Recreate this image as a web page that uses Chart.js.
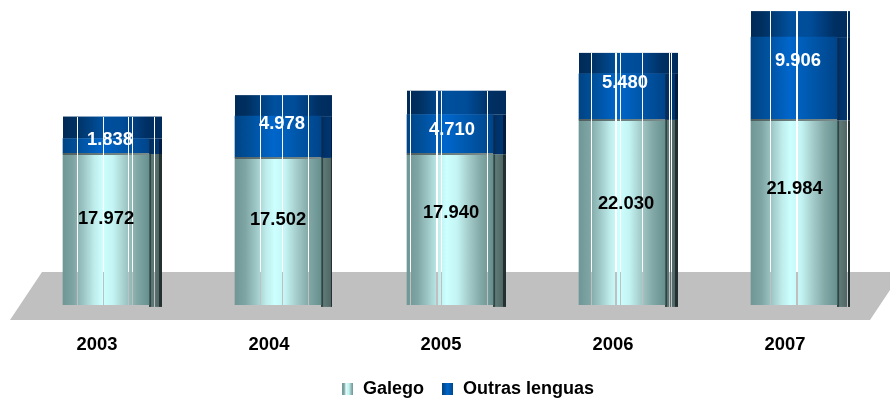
<!DOCTYPE html>
<html><head><meta charset="utf-8">
<script src="https://cdn.jsdelivr.net/npm/chart.js@4"></script>
<style>html,body{margin:0;padding:0;background:#fff}#w{width:890px;height:402px}</style>
</head><body><div id="w"><canvas id="c"></canvas></div>
<script>
const years = ['2003','2004','2005','2006','2007'];
const galego = [17972,17502,17940,22030,21984];
const outras = [1838,4978,4710,5480,9906];

// appearance only
const capDepth = [22,21,24,21,26];
const sideWidth = 13;
const slitOffsets = [[14,40,65,69,91],[25,47,73,97],[3,29,34,80],[12,36,41,63,90,92],[19,45,96]];
const slitWidths = [[1,1,1,1,1],[1,1,1,2],[1,2,1,1],[1,2,1,1,1,1],[1,2,1]];
const lift = {g:[10.5,11.5,16.7,8.5,23.6], o:[6,13,4.5,14,17.6]};
const shift = {g:[0,0,1,4,0.5], o:[4,4,2,3,4]};
const FONT = '"Liberation Sans", Arial, sans-serif';

function grad(ctx,x0,x1,stops){const g=ctx.createLinearGradient(x0,0,x1,0);stops.forEach(s=>g.addColorStop(s[0],s[1]));return g;}
const tealStops=[[0,'#6f9795'],[.12,'#7ea5a3'],[.24,'#9cc6c5'],[.36,'#bdeceb'],[.46,'#ccffff'],[.58,'#c4f5f4'],[.72,'#a3cbc9'],[.86,'#82a8a6'],[1,'#66908e']];
const blueStops=[[0,'#004484'],[.2,'#00529f'],[.45,'#0066cc'],[.7,'#0058ac'],[1,'#00448a']];
const capStops=[[0,'#002a58'],[.12,'#003060'],[.4,'#00509e'],[.6,'#004c98'],[.85,'#002f62'],[1,'#002c5c']];
function barFill(stops){return c=>{const ch=c.chart;if(!ch.chartArea||!ch.scales.x)return stops[3][1];
  const cx=ch.scales.x.getPixelForValue(c.dataIndex);return grad(ch.ctx,cx-43,cx+43,stops);};}

function swatch(stops,slit){const cv=document.createElement('canvas');cv.width=11;cv.height=12;const x=cv.getContext('2d');
  x.fillStyle=grad(x,0,11,stops);x.fillRect(0,0,11,12);if(slit){x.clearRect(3,0,1,12);}return cv;}

const dressing={id:'dressing',
 afterLayout(ch){const L=ch.legend;L.left+=18;L.right+=18;L.top+=6;L.bottom+=6;ch.scales.x.bottom=ch.height;},
 beforeDatasetsDraw(ch){const {ctx}=ch,m0=ch.getDatasetMeta(0),m1=ch.getDatasetMeta(1);
  years.forEach((_,i)=>{const b=m0.data[i],t=m1.data[i],l=b.x-b.width/2,r=b.x+b.width/2;
   const g=ctx.createLinearGradient(r,0,r+sideWidth,0);
   g.addColorStop(0,'#2f4443');g.addColorStop(.14,'#2f4443');g.addColorStop(.2,'#5f7a78');g.addColorStop(.75,'#506765');g.addColorStop(.8,'#233130');g.addColorStop(1,'#233130');
   ctx.fillStyle=g;ctx.fillRect(r,b.y,sideWidth,b.base+2-b.y);
   const h=ctx.createLinearGradient(r,0,r+sideWidth,0);
   h.addColorStop(0,'#0a2a50');h.addColorStop(.14,'#0a2a50');h.addColorStop(.2,'#003068');h.addColorStop(.75,'#003670');h.addColorStop(.8,'#001c40');h.addColorStop(1,'#001c40');
   ctx.fillStyle=h;ctx.fillRect(r,t.y,sideWidth,b.y-t.y);
   ctx.fillStyle=grad(ctx,l,r+sideWidth,capStops);ctx.fillRect(l,t.y-capDepth[i],r+sideWidth-l,capDepth[i]);
  });},
 afterDatasetsDraw(ch){const {ctx,chartArea:a}=ch,m0=ch.getDatasetMeta(0),m1=ch.getDatasetMeta(1);
  years.forEach((_,i)=>{const b=m0.data[i],t=m1.data[i],l=b.x-b.width/2;
   ctx.fillStyle=grad(ctx,l,l+b.width,[[0,'#4e5c5c'],[.5,'#6d7f7f'],[1,'#7a8a8a']]);ctx.fillRect(l,Math.round(b.y)-1,b.width,2);
   ctx.save();ctx.globalCompositeOperation='destination-out';ctx.fillStyle='#000';
   const top=Math.round(t.y-capDepth[i]);
   slitOffsets[i].forEach((o,k)=>ctx.fillRect(Math.round(l)+o,top,slitWidths[i][k],Math.round(b.base)+3-top));
   ctx.restore();
  });
  // floor slab behind the bars
  ctx.save();ctx.globalCompositeOperation='destination-over';ctx.fillStyle='#c0c0c0';ctx.beginPath();
  ctx.moveTo(a.left-10,a.bottom+15);ctx.lineTo(a.left+22,a.bottom-33);ctx.lineTo(ch.width,a.bottom-33);ctx.lineTo(ch.width,a.bottom-15);ctx.lineTo(a.right-10,a.bottom+15);ctx.closePath();ctx.fill();ctx.restore();
  // value labels
  ctx.save();ctx.font='bold 18.4px '+FONT;ctx.textAlign='center';ctx.textBaseline='middle';
  years.forEach((_,i)=>{const b=m0.data[i],t=m1.data[i];
   const fmt=v=>v.toLocaleString('de-DE');
   ctx.fillStyle='#000';ctx.fillText(fmt(galego[i]),b.x+shift.g[i],(b.y+b.base)/2-lift.g[i]);
   ctx.fillStyle='#fff';ctx.fillText(fmt(outras[i]),t.x+shift.o[i],(t.y+t.base)/2-lift.o[i]);
  });ctx.restore();
 }};

new Chart(document.getElementById('c'),{type:'bar',
 data:{labels:years,datasets:[
  {label:'Galego',data:galego,backgroundColor:barFill(tealStops),borderWidth:0,barThickness:86},
  {label:'Outras lenguas',data:outras,backgroundColor:barFill(blueStops),borderWidth:0,barThickness:86}]},
 options:{responsive:true,maintainAspectRatio:false,animation:false,
  layout:{padding:{left:20,right:10,top:3,bottom:0}},
  scales:{
   x:{stacked:true,grid:{display:false,drawTicks:false},border:{display:false},
      afterFit(ax){ax.height-=29;},
      ticks:{padding:29,labelOffset:-9,color:'#000',font:{family:FONT,size:18.4,weight:'bold'},maxRotation:0}},
   y:{stacked:true,display:false,min:0,max:35950}},
  plugins:{tooltip:{enabled:false},
   legend:{position:'bottom',labels:{usePointStyle:true,pointStyleWidth:12,color:'#000',padding:18,font:{family:FONT,size:18,weight:'bold'},
     generateLabels:()=>[
      {text:'Galego',pointStyle:swatch(tealStops,true),fontColor:'#000',datasetIndex:0,hidden:false,lineWidth:0},
      {text:'Outras lenguas',pointStyle:swatch(blueStops,false),fontColor:'#000',datasetIndex:1,hidden:false,lineWidth:0}]}}}},
 plugins:[dressing]});
</script></body></html>
